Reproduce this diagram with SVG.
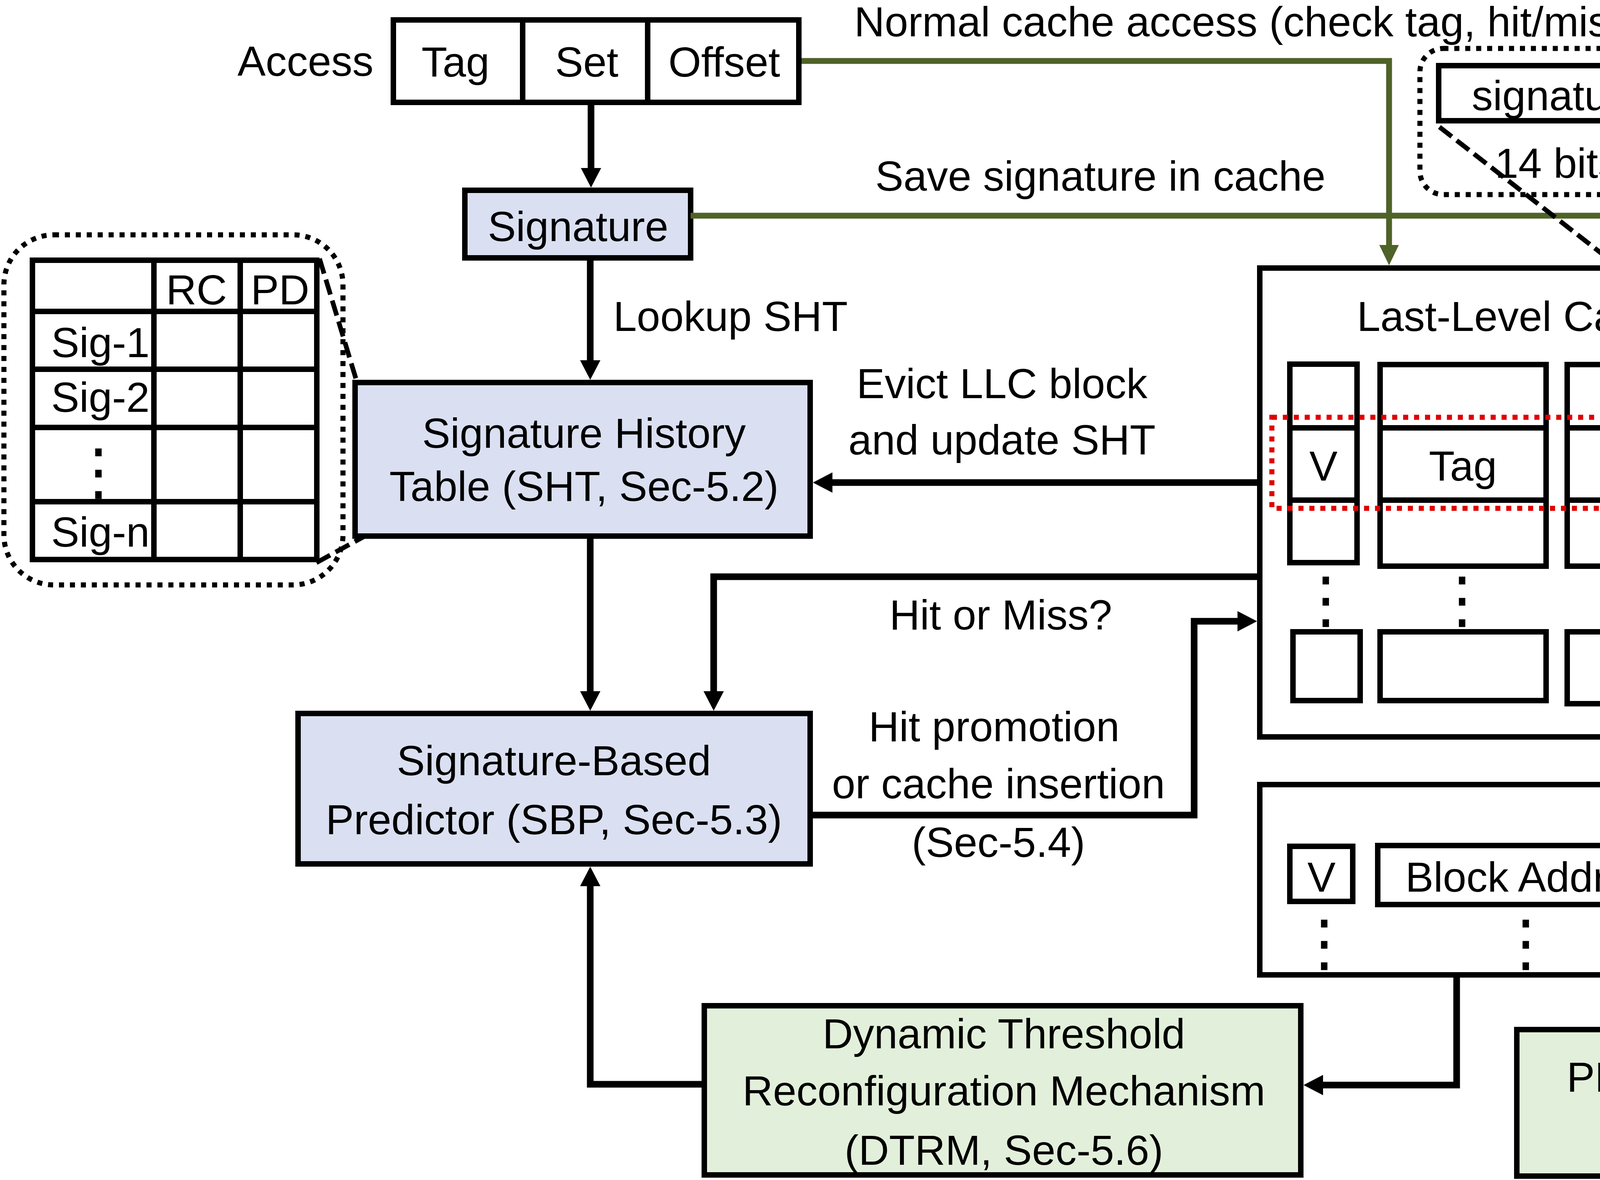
<svg xmlns="http://www.w3.org/2000/svg" width="5986" height="3020" viewBox="0 0 5986 3020">
<defs>
<style>
.t{font-family:"Liberation Sans",Arial,sans-serif;font-size:108px;fill:#000;text-anchor:middle}
.ts{text-anchor:start}
.box{fill:#fff;stroke:#000;stroke-width:14}
.blue{fill:#DAE0F1}
.green{fill:#E2EFDA}
.cell{fill:none;stroke:#000;stroke-width:14}
.conn{fill:none;stroke:#000;stroke-width:17}
.g{fill:none;stroke:#4F6228;stroke-width:15}
.dash{fill:none;stroke:#000;stroke-width:12;stroke-dasharray:40 16}
.dot{fill:none;stroke:#000;stroke-width:13;stroke-dasharray:13 15}
.red{fill:none;stroke:#E00000;stroke-width:13;stroke-dasharray:13 15}
.ell{font-family:"DejaVu Sans",sans-serif;font-size:160px;text-anchor:middle;fill:#000}
</style>
<marker id="ah" markerUnits="userSpaceOnUse" markerWidth="50" markerHeight="52" refX="30" refY="26" orient="auto" viewBox="0 0 50 52"><path d="M0,0 L50,26 L0,52 z" fill="#000"/></marker>
<marker id="ahg" markerUnits="userSpaceOnUse" markerWidth="52" markerHeight="50" refX="32" refY="25" orient="auto" viewBox="0 0 52 50"><path d="M0,0 L52,25 L0,50 z" fill="#4F6228"/></marker>
</defs>
<rect width="5986" height="3020" fill="#fff"/>

<g id="access">
<text class="t" x="782" y="194">Access</text>
<rect class="box" x="1007" y="51" width="1038" height="211"/>
<line class="cell" x1="1338" y1="51" x2="1338" y2="262"/>
<line class="cell" x1="1658" y1="51" x2="1658" y2="262"/>
<text class="t" x="1166" y="196">Tag</text>
<text class="t" x="1502" y="196">Set</text>
<text class="t" x="1854" y="196">Offset</text>
</g>

<g id="signature">
<rect class="box blue" x="1190" y="487" width="578" height="173"/>
<text class="t" x="1480" y="617">Signature</text>
</g>

<g id="sht-table">
<rect class="dot" x="10" y="601" width="868" height="896" rx="128" ry="128"/>
<rect class="cell" x="83" y="666" width="728" height="766"/>
<line class="cell" x1="394" y1="666" x2="394" y2="1432"/>
<line class="cell" x1="615" y1="666" x2="615" y2="1432"/>
<line class="cell" x1="83" y1="797" x2="811" y2="797"/>
<line class="cell" x1="83" y1="945" x2="811" y2="945"/>
<line class="cell" x1="83" y1="1094" x2="811" y2="1094"/>
<line class="cell" x1="83" y1="1284" x2="811" y2="1284"/>
<text class="t" x="503" y="779">RC</text>
<text class="t" x="717" y="779">PD</text>
<text class="t ts" x="131" y="914">Sig-1</text>
<text class="t ts" x="131" y="1054">Sig-2</text>
<text class="ell" x="252" y="1262">⋮</text>
<text class="t ts" x="131" y="1399">Sig-n</text>
</g>

<g id="sht">
<rect class="box blue" x="909" y="979" width="1165" height="393"/>
<text class="t" x="1495" y="1146">Signature History</text>
<text class="t" x="1495" y="1282">Table (SHT, Sec-5.2)</text>
</g>

<g id="sbp">
<rect class="box blue" x="763" y="1826" width="1311" height="385"/>
<text class="t" x="1418" y="1984">Signature-Based</text>
<text class="t" x="1418" y="2135">Predictor (SBP, Sec-5.3)</text>
</g>

<g id="dtrm">
<rect class="box green" x="1803" y="2574" width="1527" height="433"/>
<text class="t" x="2570" y="2683">Dynamic Threshold</text>
<text class="t" x="2570" y="2829">Reconfiguration Mechanism</text>
<text class="t" x="2570" y="2981">(DTRM, Sec-5.6)</text>
</g>

<g id="metadata-fields">
<rect class="dot" x="3635" y="124" width="2300" height="374" rx="60" ry="60"/>
<rect class="cell" x="3683" y="168" width="2185" height="141"/>
<line class="cell" x1="4300" y1="168" x2="4300" y2="309"/>
<line class="cell" x1="4561" y1="168" x2="4561" y2="309"/>
<line class="cell" x1="4999" y1="168" x2="4999" y2="309"/>
<line class="cell" x1="5542" y1="168" x2="5542" y2="309"/>
<text class="t" x="3990" y="282">signature</text>
<text class="t" x="4432" y="282">R</text>
<text class="t" x="4780" y="282">PMCS</text>
<text class="t" x="5270" y="282">prefetch</text>
<text class="t" x="5708" y="282">EPV</text>
<text class="t" x="3986" y="455">14 bits</text>
<text class="t" x="4428" y="455">1 bit</text>
<text class="t" x="4776" y="455">2 bits</text>
<text class="t" x="5266" y="455">1 bit</text>
<text class="t" x="5704" y="455">2 bits</text>
</g>

<g id="llc">
<rect class="box" x="3225" y="686" width="2125" height="1200"/>
<text class="t" x="4044" y="847">Last-Level Cache (LLC)</text>
<rect class="cell" x="3302" y="932" width="172" height="508"/>
<rect class="cell" x="3533" y="933" width="425" height="516"/>
<rect class="cell" x="4012" y="933" width="599" height="516"/>
<rect class="cell" x="4673" y="933" width="586" height="516"/>
<path class="cell" d="M3302 1095 H3474 M3302 1280 H3474 M3533 1095 H3958 M3533 1280 H3958 M4012 1095 H4611 M4012 1280 H4611 M4673 1095 H5259 M4673 1280 H5259"/>
<text class="t" x="3388" y="1230">V</text>
<text class="t" x="3745" y="1230">Tag</text>
<text class="t" x="4314" y="1230">Data</text>
<text class="t" x="4965" y="1230">Metadata</text>
<rect class="red" x="3256" y="1068" width="2038" height="233"/>
<text class="ell" x="3394" y="1590">⋮</text>
<text class="ell" x="3743" y="1590">⋮</text>
<text class="ell" x="4323" y="1590">⋮</text>
<text class="ell" x="4965" y="1590">⋮</text>
<rect class="cell" x="3310" y="1617" width="172" height="176"/>
<rect class="cell" x="3533" y="1617" width="425" height="176"/>
<rect class="cell" x="4012" y="1617" width="599" height="184"/>
<rect class="cell" x="4673" y="1617" width="586" height="179"/>
</g>

<g id="mshr">
<rect class="box" x="3225" y="2008" width="1973" height="487"/>
<text class="t" x="4937" y="2121">MSHR</text>
<rect class="cell" x="3302" y="2166" width="161" height="141"/>
<rect class="cell" x="3527" y="2164" width="681" height="151"/>
<rect class="cell" x="4283" y="2164" width="414" height="151"/>
<rect class="cell" x="4768" y="2164" width="336" height="151"/>
<text class="t" x="3383" y="2282">V</text>
<text class="t" x="3868" y="2282">Block Addr.</text>
<text class="t" x="4490" y="2282">Issued</text>
<text class="t" x="4939" y="2282">PMC</text>
<rect class="red" x="4741" y="2140" width="393" height="197"/>
<text class="ell" x="3390" y="2468">⋮</text>
<text class="ell" x="3906" y="2468">⋮</text>
<text class="ell" x="4491" y="2468">⋮</text>
<text class="ell" x="4955" y="2468">⋮</text>
</g>

<g id="pml">
<rect class="box green" x="3883" y="2635" width="1473" height="375"/>
<text class="t" x="4620" y="2794">PMC Measurement Logic</text>
<text class="t" x="4620" y="2937">(PML, Sec-4.2)</text>
</g>

<g id="dram">
<rect class="box" x="5550" y="686" width="425" height="2088"/>
<text class="t" x="5762" y="1766">DRAM</text>
</g>

<g id="connectors">
<path class="conn" d="M1513 262 V460" marker-end="url(#ah)"/>
<path class="g" d="M2052 156 H3556 V659" marker-end="url(#ahg)"/>
<path class="g" d="M1768 552 H4961 V1075" marker-end="url(#ahg)"/>
<path class="conn" d="M1511 660 V952" marker-end="url(#ah)"/>
<path class="conn" d="M3225 1235 H2101" marker-end="url(#ah)"/>
<path class="conn" d="M1511 1372 V1799" marker-end="url(#ah)"/>
<path class="conn" d="M3225 1476 H1827 V1799" marker-end="url(#ah)"/>
<path class="conn" d="M2074 2086 H3057 V1590 H3198" marker-end="url(#ah)"/>
<path class="conn" d="M1803 2775 H1511 V2238" marker-end="url(#ah)"/>
<path class="conn" d="M3729 2495 V2777 H3357" marker-end="url(#ah)"/>
<path class="conn" d="M4203 1886 V2008" style="stroke-width:14"/>
<path class="conn" d="M4203 2495 V2608" marker-end="url(#ah)"/>
<path class="conn" d="M5295 1886 V2608" marker-end="url(#ah)"/>
<path class="conn" d="M5073 2635 V2343" marker-end="url(#ah)"/>
<path class="conn" d="M5550 2112 H5225" marker-end="url(#ah)"/>
<path class="conn" d="M5198 2333 H5523" marker-end="url(#ah)"/>
<path class="dash" d="M3685 325 L4666 1090"/>
<path class="dash" d="M5866 349 L5265 1090"/>
<path class="dash" d="M818 662 L912 972"/>
<path class="dash" d="M810 1440 L934 1372"/>
<text class="t" x="3198" y="93">Normal cache access (check tag, hit/miss)</text>
<text class="t" x="2817" y="488">Save signature in cache</text>
<text class="t ts" x="1570" y="847">Lookup SHT</text>
<text class="t" x="2565" y="1019">Evict LLC block</text>
<text class="t" x="2565" y="1163">and update SHT</text>
<text class="t" x="2562" y="1611">Hit or Miss?</text>
<text class="t" x="2545" y="1897">Hit promotion</text>
<text class="t" x="2556" y="2043">or cache insertion</text>
<text class="t" x="2556" y="2193">(Sec-5.4)</text>
</g>
</svg>
